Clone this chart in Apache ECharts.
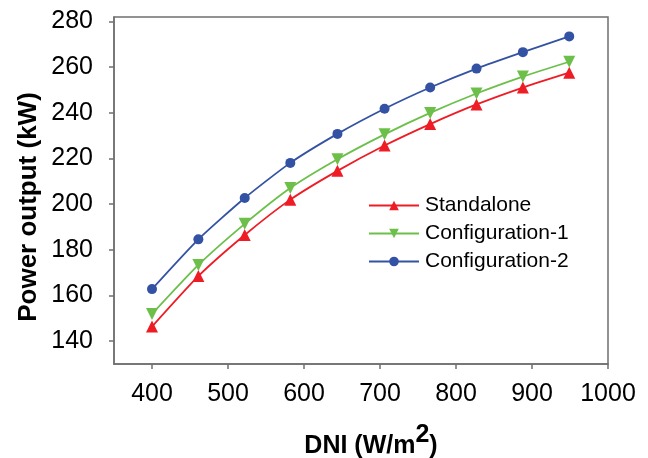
<!DOCTYPE html>
<html>
<head>
<meta charset="utf-8">
<script src="https://cdn.jsdelivr.net/npm/echarts@6/dist/echarts.min.js"></script>
<style>html,body{margin:0;padding:0;background:#fff}#c{width:648px;height:458px}</style>
</head>
<body>
<div id="c"></div>
<script>
var dni = [400, 461, 522, 582, 644, 706, 766, 827, 888, 949];
var standalone = [146.4, 168.5, 186.5, 202.0, 214.6, 225.7, 235.1, 243.7, 251.1, 257.6];
var config1 = [151.9, 173.4, 191.4, 207.1, 219.7, 230.6, 240.0, 248.5, 255.9, 262.4];
var config2 = [162.8, 184.6, 202.7, 218.1, 230.8, 241.8, 251.1, 259.4, 266.6, 273.5];
var xTicks = [400, 500, 600, 700, 800, 900, 1000];
var yTicks = [140, 160, 180, 200, 220, 240, 260, 280];

var FONT = 'Liberation Sans, Arial, sans-serif';
var AXIS = '#6f6f6f';
function pairs(ys){ return dni.map(function(x,i){ return [x, ys[i]]; }); }

var chart = echarts.init(document.getElementById('c'), null, {renderer:'canvas'});
chart.setOption({
  animation: false,
  backgroundColor: '#fff',
  grid: {left: 114, right: 40, top: 17, bottom: 94, show: true, borderColor: AXIS, borderWidth: 1.5, backgroundColor: 'transparent'},
  xAxis: {
    type: 'value', min: 350, max: 1000,
    axisLine: {show: true, lineStyle: {color: AXIS, width: 1.5}},
    axisTick: {show: true, inside: false, length: 5, lineStyle: {color: AXIS, width: 1.5}, customValues: xTicks},
    axisLabel: {customValues: xTicks, color: '#000', fontFamily: FONT, fontSize: 25, margin: 18,
      formatter: function(v){ return String(v); }},
    splitLine: {show: false}
  },
  yAxis: {
    type: 'value', min: 130, max: 282,
    axisLine: {show: true, lineStyle: {color: AXIS, width: 1.5}},
    axisTick: {show: true, inside: false, length: 5, lineStyle: {color: AXIS, width: 1.5}, customValues: yTicks},
    axisLabel: {customValues: yTicks, color: '#000', fontFamily: FONT, fontSize: 25, margin: 21,
      formatter: function(v){ return String(v); }},
    splitLine: {show: false}
  },
  legend: {
    orient: 'vertical', left: 363, top: 190, itemWidth: 50, itemHeight: 12, itemGap: 7,
    textStyle: {fontFamily: FONT, fontSize: 21, color: '#000', padding: [0,0,0,1]},
    data: ['Standalone', 'Configuration-1', 'Configuration-2']
  },
  graphic: [
    {type: 'text', x: 29, y: 207, rotation: Math.PI/2,
     style: {text: 'Power output (kW)', font: 'bold 26px ' + FONT, fill: '#000', align: 'center', verticalAlign: 'middle'}},
    {type: 'text', x: 371, y: 441,
     style: {text: '{a|DNI (W/m}{s|2}{a|)}', fill: '#000', align: 'center', verticalAlign: 'middle',
       rich: {a: {fontFamily: FONT, fontWeight: 'bold', fontSize: 25, verticalAlign: 'bottom', lineHeight: 36},
              s: {fontFamily: FONT, fontWeight: 'bold', fontSize: 25, verticalAlign: 'top', lineHeight: 36, padding: [0,0,10,0]}}}}
  ],
  series: [
    {name: 'Standalone', type: 'line', data: pairs(standalone), smooth: 0.2, symbol: 'triangle', symbolSize: 12,
     itemStyle: {color: '#ee1c25'}, lineStyle: {color: '#ee1c25', width: 1.8}},
    {name: 'Configuration-1', type: 'line', data: pairs(config1), smooth: 0.2, symbol: 'triangle', symbolRotate: 180, symbolSize: 12,
     itemStyle: {color: '#6cc04a'}, lineStyle: {color: '#6cc04a', width: 1.8}},
    {name: 'Configuration-2', type: 'line', data: pairs(config2), smooth: 0.2, symbol: 'circle', symbolSize: 10,
     itemStyle: {color: '#3452a4'}, lineStyle: {color: '#3452a4', width: 1.8}}
  ]
});
</script>
</body>
</html>
